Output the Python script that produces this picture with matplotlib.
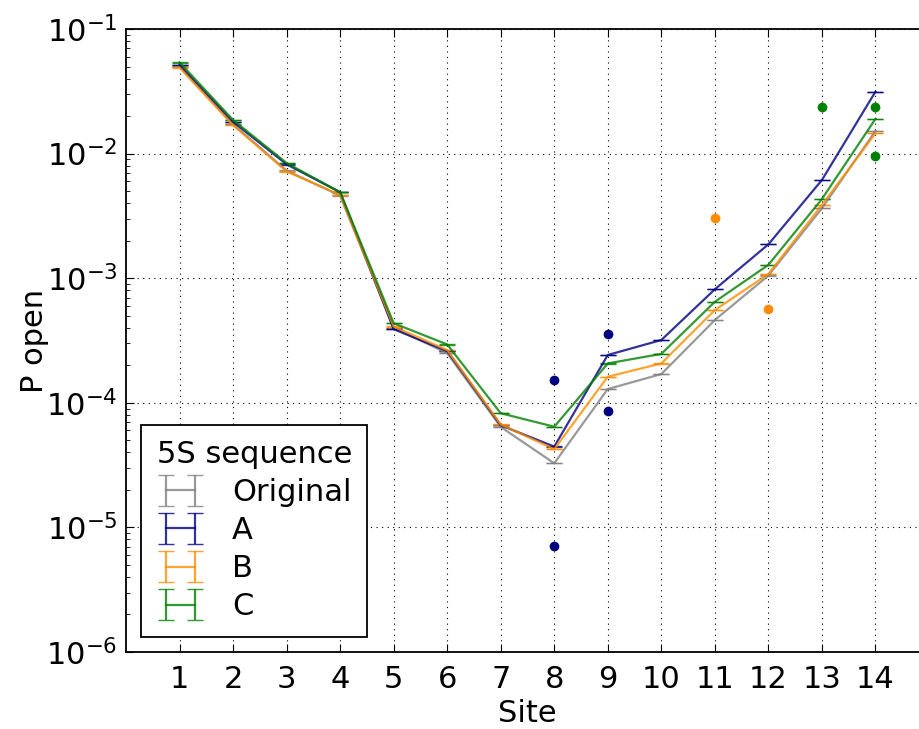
import matplotlib
matplotlib.use("Agg")
import matplotlib.pyplot as plt
import numpy as np

# Opening probability per site for each 5S sequence variant
sites = list(range(1, 15))
p_original = [0.050, 0.0172, 0.0073, 0.0046, 0.00040, 0.00025, 6.4e-5,
              3.27e-5, 1.29e-4, 1.70e-4, 4.62e-4, 1.05e-3, 3.64e-3, 0.0152]
p_a = [0.0515, 0.0180, 0.0082, 0.0049, 0.00039, 0.00026, 6.6e-5,
       4.45e-5, 2.42e-4, 3.19e-4, 8.15e-4, 1.87e-3, 6.14e-3, 0.0314]
p_b = [0.049, 0.0169, 0.0072, 0.00466, 0.00041, 0.000265, 6.7e-5,
       4.24e-5, 1.62e-4, 2.07e-4, 5.55e-4, 1.08e-3, 3.87e-3, 0.01455]
p_c = [0.054, 0.0186, 0.0084, 0.0049, 0.000435, 0.000294, 8.24e-5,
       6.43e-5, 2.07e-4, 2.47e-4, 6.47e-4, 1.28e-3, 4.32e-3, 0.0190]

# Relative standard error of each estimate
rel_err = 0.003

# Individual measurements
pts_a_site = [8, 8, 9, 9]
pts_a_val = [1.52e-4, 7.1e-6, 3.55e-4, 8.65e-5]
pts_b_site = [11, 12]
pts_b_val = [3.06e-3, 5.62e-4]
pts_c_site = [13, 14, 14]
pts_c_val = [0.0235, 0.0235, 0.00957]

labels = ["Original", "A", "B", "C"]
colors = ["gray", "navy", "darkorange", "green"]

plt.rcParams.update({
    "font.family": "DejaVu Sans",
    "font.size": 22,
    "xtick.direction": "in",
    "ytick.direction": "in",
    "xtick.top": True,
    "ytick.right": True,
    "xtick.major.size": 6,
    "ytick.major.size": 6,
    "ytick.minor.size": 3,
    "xtick.major.pad": 9,
    "ytick.major.pad": 6,
    "axes.linewidth": 1.3,
})

fig = plt.figure(figsize=(9.2, 7.29), dpi=100)
ax = fig.add_axes([126 / 920, 1 - 652 / 729, 803 / 920, 623 / 729])

series = [p_original, p_a, p_b, p_c]
for vals, lab, col in zip(series, labels, colors):
    v = np.array(vals)
    ax.errorbar(sites, v, yerr=rel_err * v, color=col, alpha=0.8,
                lw=1.6, capsize=6, capthick=1.0, label=lab)

ax.plot(pts_a_site, pts_a_val, "o", color="navy", ms=7, mec="none")
ax.plot(pts_b_site, pts_b_val, "o", color="darkorange", ms=7, mec="none")
ax.plot(pts_c_site, pts_c_val, "o", color="green", ms=7, mec="none")

ax.set_yscale("log")
ax.set_ylim(1e-6, 1e-1)
ax.set_xlim(0, 15)
ax.set_xticks(sites)
ax.grid(True, which="major", color="k", linestyle=(0, (1, 4)), lw=0.8)
ax.set_xlabel("Site")
ax.set_ylabel("P open", labelpad=-2)

leg = ax.legend(title="5S sequence", loc="lower left", numpoints=2,
                fancybox=False, framealpha=1, edgecolor="black",
                handlelength=1.55, labelspacing=0.3, handletextpad=0.9,
                borderpad=0.5, borderaxespad=0.5)
leg.get_frame().set_linewidth(1.3)
leg.get_title().set_fontsize(22)

fig.savefig("out.png", dpi=100)
